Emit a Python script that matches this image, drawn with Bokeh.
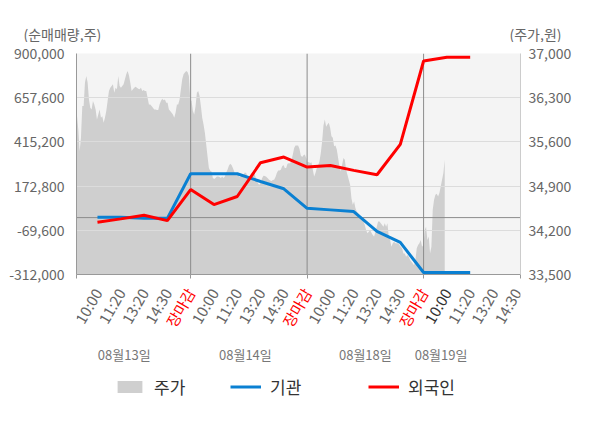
import math
import numpy as np
from bokeh.plotting import figure
from bokeh.layouts import column
from bokeh.models import (Range1d, LinearAxis, FixedTicker, NumeralTickFormatter,
                          CustomJSTickFormatter, Span, Legend, LegendItem)
from bokeh.core.properties import value
from bokeh.embed import file_html
from bokeh.resources import INLINE

FONT = "Noto Sans CJK KR"

# ---- data ----
tick_labels = ["10:00", "11:20", "13:20", "14:30", "장마감",
               "10:00", "11:20", "13:20", "14:30", "장마감",
               "10:00", "11:20", "13:20", "14:30", "장마감",
               "10:00", "11:20", "13:20", "14:30"]
day_labels = ["08월13일", "08월14일", "08월18일", "08월19일"]

left_ticks = [-312000, -69600, 172800, 415200, 657600, 900000]
right_ticks = [33500, 34200, 34900, 35600, 36300, 37000]

# 기관 / 외국인 net buying (shares), one value per time slot (10:00 day1 .. 11:20 day4)
inst = [2000, 2000, -4000, -4000, 240700, 240700, 240700, 198000, 158000,
        51000, 42400, 33000, -75500, -136000, -301000, -301000, -301000]
foreign = [-26000, -7000, 13000, -16500, 154000, 71600, 115700, 301000, 332000,
           277000, 286000, 259000, 235000, 402000, 859000, 880000, 880000]

# 주가 intraday price samples (won), evenly spaced in time
price_day1 = [36019, 35796, 35452, 35664, 36167, 36167, 36539, 36645, 36539, 36273,
              36141, 36114, 36247, 36194, 36114, 35955, 36035, 36114, 35982, 36008,
              35902, 35982, 36088, 36247, 36406, 36459, 36486, 36512, 36380, 36459,
              36433, 36645, 36486, 36459, 36486, 36512, 36592, 36671, 36724, 36655,
              36539, 36406, 36433, 36459, 36475, 36459, 36443, 36433, 36459, 36406,
              36422, 36406, 36406, 36300, 36194, 36194, 36167, 36141, 36114, 36114,
              36104, 36104, 36194, 36247, 36284, 36258, 36273, 36220, 36220, 36114,
              36088, 36061, 36035, 35982, 36061, 36194, 36194, 36273, 36433, 36592,
              36671, 36698, 36724, 36708, 36645]
price_day2 = [36273, 36247, 36088, 36035, 36167, 36380, 36406, 36327, 36167, 35982,
              35876, 35743, 35558, 35367, 35186, 35144, 35133, 35027, 35011, 35027,
              35054, 35054, 35043, 35027, 35054, 35027, 35054, 35117, 35160, 35223,
              35255, 35234, 35186, 35133, 35080, 35080, 35080, 35043, 35054, 35064,
              35080, 35117, 35107, 35054, 35011, 35001, 35064, 35117, 35107, 35043,
              34990, 34937, 34921, 34974, 35027, 35064, 35059, 35048, 35027, 35006,
              34990, 34980, 34995, 35001, 35043, 35107, 35149, 35149, 35160, 35213,
              35234, 35186, 35186, 35255, 35261, 35261, 35308, 35399, 35505, 35542,
              35542, 35542, 35489, 35383, 35361, 35388, 35399, 35345]
price_day3 = [35277, 35282, 35266, 35277, 35160, 35054, 35107, 35186, 35229, 35292,
              35425, 35611, 35860, 35955, 35839, 35876, 35902, 35823, 35690, 35664,
              35531, 35542, 35478, 35345, 35213, 35133, 35239, 35345, 35319, 35160,
              35080, 35001, 34921, 34709, 34603, 34656, 34550, 34497, 34470, 34444,
              34417, 34364, 34338, 34285, 34205, 34152, 34179, 34205, 34163, 34126,
              34100, 34179, 34258, 34338, 34338, 34311, 34285, 34258, 34311, 34258,
              34311, 34100, 34046, 33940, 33993, 34020, 33993, 33993, 33993, 33967,
              33940, 33914, 33834, 33834, 33781, 33808, 33781, 33728, 33701, 33675,
              33648, 33728, 33914, 33967, 33993, 34046, 33940]
price_day4 = [33967, 34205, 34258, 34046, 34100, 33834, 33940, 34524, 34683, 34762,
              34778, 34736, 34789, 34895, 35001, 35107, 35319]

# ---- layout ----
price = price_day1 + price_day2 + price_day3 + price_day4
price_x = 0.12 + np.arange(len(price)) * 0.0572
slot_x = list(range(1, len(inst) + 1))
label_x = list(range(1, len(tick_labels) + 1))
label_colors = ["#ff0000" if t == "장마감" else "#666666" for t in tick_labels]
label_colors[15] = "#333333"
day_label_x = [2.15, 7.35, 12.5, 15.75]

LEFT, RIGHT = 76, 80
GRAY, BLUE, RED = "#cfcfcf", "#0a80d2", "#ff0000"

# header with axis titles
hdr = figure(width=600, height=42, x_range=Range1d(0, 600), y_range=Range1d(42, 0),
             output_backend="svg", toolbar_location=None, min_border=0,
             x_axis_location=None, y_axis_location=None)
hdr.frame_align = False
hdr.grid.visible = False
hdr.outline_line_color = None
hdr.text(x=[23, 509], y=[33, 33], text=["(순매매량,주)", "(주가,원)"],
         text_align="left", text_baseline="middle", text_font=value(FONT),
         text_font_size="14px", text_color="#666666")

# main chart
p = figure(width=600, height=242, x_range=Range1d(0.1, 19.16),
           y_range=Range1d(-312000, 900000), output_backend="svg",
           toolbar_location=None, min_border_left=LEFT, min_border_right=RIGHT,
           min_border_top=11, min_border_bottom=10)
p.extra_y_ranges = {"price": Range1d(33500, 37000)}
p.background_fill_color = "#f4f4f4"
p.border_fill_color = "white"
p.outline_line_color = None

p.varea(x=price_x, y1=33500, y2=price, y_range_name="price",
        fill_color=GRAY, level="image")

p.xgrid.grid_line_color = None
p.ygrid.ticker = FixedTicker(ticks=left_ticks)
p.ygrid.grid_line_color = "#dcdcdc"

for loc in [5, 10, 15]:
    p.add_layout(Span(location=loc, dimension="height", line_color="#8c8c8c",
                      line_width=1, level="underlay"))
p.add_layout(Span(location=0, dimension="width", line_color="#8c8c8c",
                  line_width=1, level="underlay"))

p.line(slot_x, inst, line_color=BLUE, line_width=3)
p.line(slot_x, foreign, line_color=RED, line_width=3)

xa = p.xaxis[0]
xa.ticker = FixedTicker(ticks=[0.1, 5, 10, 15, 19.16])
xa.formatter = CustomJSTickFormatter(code="return ''")
xa.major_label_text_font_size = "1px"
xa.major_label_standoff = 0
xa.major_tick_out = 4
xa.major_tick_in = 0
xa.minor_tick_out = 0
xa.minor_tick_in = 0
xa.axis_line_color = "#999999"
xa.major_tick_line_color = "#999999"

ya = p.yaxis[0]
ya.ticker = FixedTicker(ticks=left_ticks)
ya.formatter = NumeralTickFormatter(format="0,0")
ya.major_tick_out = 0
ya.major_tick_in = 0
ya.minor_tick_out = 0
ya.minor_tick_in = 0
ya.axis_line_color = "#999999"
ya.major_label_standoff = 12
ya.major_label_text_font = FONT
ya.major_label_text_font_size = "14px"
ya.major_label_text_color = "#666666"

ra = LinearAxis(y_range_name="price", ticker=FixedTicker(ticks=right_ticks),
                formatter=NumeralTickFormatter(format="0,0"))
ra.major_tick_out = 0
ra.major_tick_in = 0
ra.minor_tick_out = 0
ra.minor_tick_in = 0
ra.axis_line_color = "#cccccc"
ra.major_label_standoff = 8
ra.major_label_text_font = FONT
ra.major_label_text_font_size = "14px"
ra.major_label_text_color = "#666666"
p.add_layout(ra, "right")

# footer: rotated tick labels, day labels, legend
ftr = figure(width=600, height=144, x_range=p.x_range, y_range=Range1d(144, 0),
             output_backend="svg", toolbar_location=None, min_border_left=LEFT,
             min_border_right=RIGHT, min_border_top=0, min_border_bottom=0,
             x_axis_location=None, y_axis_location=None)
ftr.grid.visible = False
ftr.outline_line_color = None

ftr.text(x=label_x, y=[5] * len(label_x), text=tick_labels, text_color=label_colors,
         angle=math.pi / 3, text_align="right", text_baseline="middle",
         text_font=value(FONT), text_font_size="15px")
ftr.text(x=day_label_x, y=[70] * len(day_label_x), text=day_labels,
         text_align="center", text_baseline="middle", text_font=value(FONT),
         text_font_size="13px", text_color="#777777")

# legend swatches (kept outside the visible x range, only their legend glyphs show)
d_area = ftr.varea(x=[-5, -4], y1=[100, 100], y2=[90, 90], fill_color=GRAY)
d_inst = ftr.line(x=[-5, -4], y=[100, 100], line_color=BLUE, line_width=3)
d_for = ftr.line(x=[-5, -4], y=[100, 100], line_color=RED, line_width=3)

for lab, rend, lx in [("주가", d_area, 38), ("기관", d_inst, 154), ("외국인", d_for, 292)]:
    leg = Legend(items=[LegendItem(label=lab, renderers=[rend])], location=(lx, 29),
                 orientation="horizontal", glyph_width=31, glyph_height=15,
                 label_standoff=9, padding=0, spacing=0, margin=0,
                 border_line_color=None, background_fill_alpha=0,
                 label_text_font=FONT, label_text_font_size="17px",
                 label_text_color="#333333")
    ftr.add_layout(leg)

layout = column(hdr, p, ftr, spacing=0)
open("out.html", "w").write(file_html(layout, INLINE))
